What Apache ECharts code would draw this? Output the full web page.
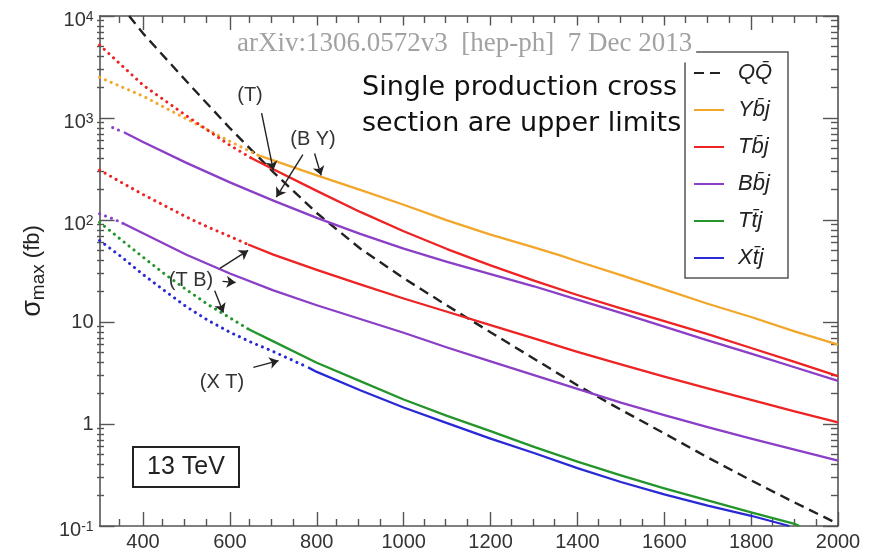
<!DOCTYPE html>
<html>
<head>
<meta charset="utf-8">
<script src="https://cdn.jsdelivr.net/npm/echarts@6/dist/echarts.min.js"></script>
<style>
	html, body { margin: 0; padding: 0; background: #fff; }
	#main { width: 883px; height: 555px; }
</style>
</head>
<body>
<div id="main"></div>
<script>
	// mass (GeV) / sigma_max (fb)
	var qqMass = [368, 400, 500, 600, 700, 800, 900, 1000, 1100, 1200, 1300, 1400, 1500, 1600, 1700, 1800, 1900, 2000];
	var qqSigma = [10000, 6760, 2290, 794, 295, 117, 52.5, 26.9, 14.5, 7.94, 4.37, 2.40, 1.38, 0.81, 0.47, 0.28, 0.17, 0.105];

	var ybjDotMass = [300, 400, 500, 600, 665];
	var ybjDotSigma = [2500, 1640, 980, 590, 431];
	var ybjMass = [665, 700, 800, 900, 1000, 1100, 1200, 1300, 1360, 1400, 1500, 1600, 1700, 1800, 1900, 2000];
	var ybjSigma = [431, 384, 274, 197, 141, 99, 72, 54, 45, 39.4, 28.8, 20.9, 15.1, 11.2, 8.1, 6.0];

	var tbjDotMass = [300, 400, 500, 600, 650];
	var tbjDotSigma = [5200, 2100, 1050, 540, 403];
	var tbjMass = [650, 700, 800, 900, 1000, 1100, 1200, 1300, 1400, 1500, 1600, 1700, 1800, 1900, 2000];
	var tbjSigma = [403, 314, 193, 120, 77.6, 51.9, 35.9, 25.4, 18.4, 13.6, 10.2, 7.6, 5.56, 4.07, 2.95];

	var tbj2DotMass = [300, 350, 400, 450, 500, 550, 600, 642];
	var tbj2DotSigma = [309, 234, 178, 138, 107, 85, 69, 57.5];
	var tbj2Mass = [642, 700, 800, 900, 1000, 1100, 1200, 1300, 1400, 1500, 1600, 1700, 1800, 1900, 2000];
	var tbj2Sigma = [57.5, 45.7, 32.4, 23.4, 17.0, 12.6, 9.3, 6.9, 5.1, 3.85, 2.92, 2.24, 1.72, 1.33, 1.035];

	var bbjDotMass = [330, 356];
	var bbjDotSigma = [805, 724];
	var bbjMass = [356, 400, 500, 600, 700, 800, 900, 1000, 1100, 1200, 1300, 1400, 1500, 1600, 1700, 1800, 1900, 2000];
	var bbjSigma = [724, 582, 363, 234, 155, 105, 73, 52.5, 38.9, 29.5, 22.4, 16.6, 12.3, 9.0, 6.6, 4.9, 3.6, 2.65];

	var bbj2DotMass = [300, 330, 356];
	var bbj2DotSigma = [115, 103, 92];
	var bbj2Mass = [356, 400, 500, 600, 700, 800, 900, 1000, 1100, 1200, 1300, 1400, 1500, 1600, 1700, 1800, 1900, 2000];
	var bbj2Sigma = [92, 74, 45.7, 29.9, 20.4, 14.6, 10.7, 7.85, 5.62, 4.12, 3.02, 2.21, 1.62, 1.22, 0.93, 0.72, 0.56, 0.437];

	var ttjDotMass = [300, 350, 400, 450, 500, 550, 600, 642];
	var ttjDotSigma = [95, 63.8, 43.2, 29.5, 20.7, 14.8, 11, 8.55];
	var ttjMass = [642, 700, 800, 900, 1000, 1100, 1200, 1300, 1400, 1500, 1600, 1700, 1800, 1900, 1911];
	var ttjSigma = [8.55, 6.46, 3.98, 2.63, 1.74, 1.20, 0.85, 0.596, 0.427, 0.313, 0.234, 0.178, 0.136, 0.105, 0.1];

	var xtjDotMass = [300, 350, 400, 450, 500, 550, 600, 650, 700, 780];
	var xtjDotSigma = [63, 43.6, 29.2, 20.2, 14.1, 10.35, 7.94, 6.31, 5.13, 3.59];
	var xtjMass = [780, 800, 900, 1000, 1100, 1200, 1300, 1400, 1500, 1600, 1700, 1800, 1888];
	var xtjSigma = [3.59, 3.24, 2.14, 1.45, 1.02, 0.72, 0.52, 0.37, 0.27, 0.204, 0.158, 0.126, 0.1];

	// arrows: [mass from, sigma from, mass to, sigma to]
	var arrows = [
		[673, 1115, 700, 307],
		[768, 437, 707, 168],
		[795, 448, 810, 274],
		[577, 33.5, 642, 50.3],
		[583, 25, 613, 24.4],
		[565, 20.3, 585, 12.4],
		[654, 3.59, 712, 4.18]
	];

	var xMajor = [400, 600, 800, 1000, 1200, 1400, 1600, 1800, 2000];
	var xMinor = [350, 450, 500, 550, 650, 700, 750, 850, 900, 950, 1050, 1100, 1150, 1250, 1300, 1350,
		1450, 1500, 1550, 1650, 1700, 1750, 1850, 1900, 1950];
	var yMajor = [0.1, 1, 10, 100, 1000, 10000];
	var yMinor = [0.2, 0.3, 0.4, 0.5, 0.6, 0.7, 0.8, 0.9, 2, 3, 4, 5, 6, 7, 8, 9,
		20, 30, 40, 50, 60, 70, 80, 90, 200, 300, 400, 500, 600, 700, 800, 900,
		2000, 3000, 4000, 5000, 6000, 7000, 8000, 9000];

	var names = ['QQ\u0304', 'Yb\u0304j', 'Tb\u0304j', 'Bb\u0304j', 'Tt\u0304j', 'Xt\u0304j'];
	var colors = ['#222222', '#f2a62a', '#ee2323', '#8a3fc6', '#23952b', '#2929d6'];

	var axisColor = '#555';
	var sans = '"Liberation Sans", Arial, sans-serif';
	var box = { left: 97, top: 16, width: 741, height: 510 };

	function pairs(xs, ys) {
		return xs.map(function (x, i) { return [x, ys[i]]; });
	}

	function curve(name, color, xs, ys, dotted) {
		return {
			name: name,
			type: 'line',
			xAxisIndex: 0,
			yAxisIndex: 0,
			data: pairs(xs, ys),
			symbol: 'none',
			smooth: false,
			silent: true,
			animation: false,
			itemStyle: { color: color },
			lineStyle: dotted
				? { color: color, width: 3, type: [0.1, 6.2], cap: 'round' }
				: { color: color, width: 2.3, join: 'round' }
		};
	}

	function powLabel(v) {
		var e = Math.round(Math.log(v) / Math.LN10);
		if (e === 0) return '{c|1}';
		if (e === 1) return '{c|10}';
		return '{b|10}{e|' + e + '}';
	}

	function xAx(grid, pos, ticks, len, labels) {
		return {
			type: 'value', gridIndex: grid, position: pos, min: 300, max: 2000,
			axisLine: { show: grid === 0, lineStyle: { color: axisColor, width: 1.6 } },
			axisTick: { show: true, inside: true, length: len, customValues: ticks, lineStyle: { color: axisColor, width: 1.4 } },
			axisLabel: labels ? {
				show: true, customValues: xMajor, margin: 6, fontSize: 20, color: '#333', fontFamily: sans,
				formatter: function (v) { return String(v); }
			} : { show: false },
			splitLine: { show: false }
		};
	}

	function yAx(grid, pos, ticks, len, labels) {
		var ax = {
			type: 'log', logBase: 10, gridIndex: grid, position: pos, min: 0.1, max: 10000,
			axisLine: { show: grid === 0, lineStyle: { color: axisColor, width: 1.6 } },
			axisTick: { show: true, inside: true, length: len, customValues: ticks, lineStyle: { color: axisColor, width: 1.4 } },
			axisLabel: { show: false },
			splitLine: { show: false }
		};
		if (labels) {
			ax.axisLabel = {
				show: true, customValues: yMajor, margin: 6, formatter: powLabel,
				rich: {
					b: { fontSize: 20, lineHeight: 20, color: '#333', fontFamily: sans, padding: [8, 0, 0, 0] },
					e: { fontSize: 14, lineHeight: 14, color: '#333', fontFamily: sans, verticalAlign: 'top', padding: [4, 0, 0, 0] },
					c: { fontSize: 20, lineHeight: 20, color: '#333', fontFamily: sans }
				}
			};
			ax.name = '{s|\u03c3}{m|max}{p| (fb)}';
			ax.nameLocation = 'middle';
			ax.nameGap = 46;
			ax.nameRotate = 90;
			ax.nameTextStyle = {
				rich: {
					s: { fontSize: 27, lineHeight: 30, color: '#222', fontFamily: sans },
					m: { fontSize: 19, lineHeight: 19, color: '#222', fontFamily: sans, verticalAlign: 'bottom', padding: [21, 0, 0, 0] },
					p: { fontSize: 22, lineHeight: 30, color: '#222', fontFamily: sans }
				}
			};
		}
		return ax;
	}

	var series = [
		curve(names[0], colors[0], qqMass, qqSigma, false),
		curve(names[1], colors[1], ybjMass, ybjSigma, false),
		curve(names[2], colors[2], tbjMass, tbjSigma, false),
		curve(names[3], colors[3], bbjMass, bbjSigma, false),
		curve(names[4], colors[4], ttjMass, ttjSigma, false),
		curve(names[5], colors[5], xtjMass, xtjSigma, false),
		curve(names[2], colors[2], tbj2Mass, tbj2Sigma, false),
		curve(names[3], colors[3], bbj2Mass, bbj2Sigma, false),
		curve('ybj-ext', colors[1], ybjDotMass, ybjDotSigma, true),
		curve('tbj-ext', colors[2], tbjDotMass, tbjDotSigma, true),
		curve('tbj2-ext', colors[2], tbj2DotMass, tbj2DotSigma, true),
		curve('bbj-ext', colors[3], bbjDotMass, bbjDotSigma, true),
		curve('bbj2-ext', colors[3], bbj2DotMass, bbj2DotSigma, true),
		curve('ttj-ext', colors[4], ttjDotMass, ttjDotSigma, true),
		curve('xtj-ext', colors[5], xtjDotMass, xtjDotSigma, true)
	];
	series[0].lineStyle = { color: colors[0], width: 2.4, type: [10, 6] };
	series[0].markLine = {
		silent: true,
		animation: false,
		symbol: ['none', 'arrow'],
		symbolSize: 9,
		label: { show: false },
		lineStyle: { color: '#222', width: 1.4, type: 'solid' },
		data: arrows.map(function (a) {
			return [{ coord: [a[0], a[1]] }, { coord: [a[2], a[3]] }];
		})
	};

	var textStyleMid = function (text, x, y, font, fill) {
		return {
			type: 'text', z: 100, x: x, y: y,
			style: {
				text: text, fill: fill, font: font,
				textAlign: 'center', align: 'center', textVerticalAlign: 'middle', verticalAlign: 'middle'
			}
		};
	};

	var chart = echarts.init(document.getElementById('main'));

	chart.setOption({
		animation: false,
		backgroundColor: '#fff',
		grid: [
			{ left: box.left, top: box.top, width: box.width, height: box.height },
			{ left: box.left, top: box.top, width: box.width, height: box.height }
		],
		xAxis: [
			xAx(0, 'bottom', xMajor, 14, true),
			xAx(0, 'top', xMajor, 14, false),
			xAx(1, 'bottom', xMinor, 7, false),
			xAx(1, 'top', xMinor, 7, false)
		],
		yAxis: [
			yAx(0, 'left', yMajor, 15, true),
			yAx(0, 'right', yMajor, 15, false),
			yAx(1, 'left', yMinor, 7, false),
			yAx(1, 'right', yMinor, 7, false)
		],
		legend: {
			data: names,
			orient: 'vertical',
			left: 693,
			top: 61,
			padding: 0,
			itemGap: 13,
			itemWidth: 30,
			itemHeight: 14,
			selectedMode: false,
			itemStyle: { opacity: 0 },
			textStyle: {
				fontSize: 22, lineHeight: 24, fontStyle: 'italic', color: '#222', fontFamily: sans,
				padding: [0, 0, 0, 9]
			}
		},
		graphic: [
			{
				type: 'rect', z: 1,
				shape: { x: 685, y: 52, width: 103, height: 226 },
				style: { fill: 'none', stroke: axisColor, lineWidth: 1.5 }
			},
			{
				type: 'text', z: 100, x: 235, y: 44,
				style: {
					text: 'arXiv:1306.0572v3  [hep-ph]  7 Dec 2013',
					fill: '#a2a2a2', font: '27px "Liberation Serif", serif',
					textVerticalAlign: 'middle', verticalAlign: 'middle',
					backgroundColor: '#fff', padding: [5, 4, 5, 2]
				}
			},
			{
				type: 'text', z: 100, x: 362, y: 70,
				style: {
					text: 'Single production cross\nsection are upper limits',
					fill: '#111', font: '27px "DejaVu Sans", sans-serif', lineHeight: 36
				}
			},
			{
				type: 'rect', z: 100,
				shape: { x: 133, y: 447, width: 106, height: 40 },
				style: { fill: '#fff', stroke: '#222', lineWidth: 2 }
			},
			textStyleMid('13 TeV', 186, 467, '25px ' + sans, '#222'),
			textStyleMid('(T)', 250, 95, '20px ' + sans, '#333'),
			textStyleMid('(B Y)', 313, 139, '20px ' + sans, '#333'),
			textStyleMid('(T B)', 191, 280, '20px ' + sans, '#333'),
			textStyleMid('(X T)', 222, 382, '20px ' + sans, '#333')
		],
		series: series
	});
</script>
</body>
</html>
